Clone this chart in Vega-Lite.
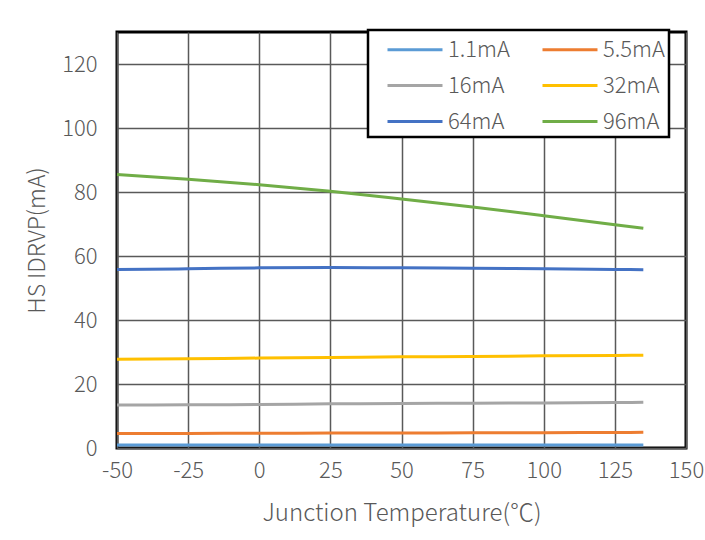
{
  "$schema": "https://vega.github.io/schema/vega-lite/v6.json",
  "width": 569,
  "height": 416,
  "autosize": {"type": "none"},
  "padding": {"left": 117, "top": 32, "right": 19, "bottom": 92},
  "background": "white",
  "config": {
    "font": "Noto Sans CJK SC",
    "view": {"stroke": "black", "strokeWidth": 3},
    "legend": {"strokeWidth": 2.5}
  },
  "data": {
    "values": [
      {"t": -50, "s": "1.1mA", "v": 0.9}, {"t": -25, "s": "1.1mA", "v": 0.9}, {"t": 0, "s": "1.1mA", "v": 0.9}, {"t": 25, "s": "1.1mA", "v": 0.9}, {"t": 50, "s": "1.1mA", "v": 0.9}, {"t": 75, "s": "1.1mA", "v": 0.9}, {"t": 100, "s": "1.1mA", "v": 0.9}, {"t": 125, "s": "1.1mA", "v": 0.9}, {"t": 135, "s": "1.1mA", "v": 0.9},
      {"t": -50, "s": "5.5mA", "v": 4.5}, {"t": -25, "s": "5.5mA", "v": 4.55}, {"t": 0, "s": "5.5mA", "v": 4.6}, {"t": 25, "s": "5.5mA", "v": 4.65}, {"t": 50, "s": "5.5mA", "v": 4.7}, {"t": 75, "s": "5.5mA", "v": 4.75}, {"t": 100, "s": "5.5mA", "v": 4.8}, {"t": 125, "s": "5.5mA", "v": 4.85}, {"t": 135, "s": "5.5mA", "v": 4.9},
      {"t": -50, "s": "16mA", "v": 13.4}, {"t": -25, "s": "16mA", "v": 13.5}, {"t": 0, "s": "16mA", "v": 13.6}, {"t": 25, "s": "16mA", "v": 13.8}, {"t": 50, "s": "16mA", "v": 13.9}, {"t": 75, "s": "16mA", "v": 14.0}, {"t": 100, "s": "16mA", "v": 14.1}, {"t": 125, "s": "16mA", "v": 14.2}, {"t": 135, "s": "16mA", "v": 14.3},
      {"t": -50, "s": "32mA", "v": 27.7}, {"t": -25, "s": "32mA", "v": 27.9}, {"t": 0, "s": "32mA", "v": 28.1}, {"t": 25, "s": "32mA", "v": 28.3}, {"t": 50, "s": "32mA", "v": 28.5}, {"t": 75, "s": "32mA", "v": 28.6}, {"t": 100, "s": "32mA", "v": 28.8}, {"t": 125, "s": "32mA", "v": 28.9}, {"t": 135, "s": "32mA", "v": 29.0},
      {"t": -50, "s": "64mA", "v": 55.8}, {"t": -25, "s": "64mA", "v": 56.0}, {"t": 0, "s": "64mA", "v": 56.3}, {"t": 25, "s": "64mA", "v": 56.4}, {"t": 50, "s": "64mA", "v": 56.3}, {"t": 75, "s": "64mA", "v": 56.2}, {"t": 100, "s": "64mA", "v": 56.0}, {"t": 125, "s": "64mA", "v": 55.8}, {"t": 135, "s": "64mA", "v": 55.7},
      {"t": -50, "s": "96mA", "v": 85.5}, {"t": -25, "s": "96mA", "v": 84.0}, {"t": 0, "s": "96mA", "v": 82.3}, {"t": 25, "s": "96mA", "v": 80.2}, {"t": 50, "s": "96mA", "v": 77.8}, {"t": 75, "s": "96mA", "v": 75.3}, {"t": 100, "s": "96mA", "v": 72.6}, {"t": 125, "s": "96mA", "v": 69.8}, {"t": 135, "s": "96mA", "v": 68.7}
    ]
  },
  "mark": {"type": "line", "strokeWidth": 3, "interpolate": "monotone"},
  "encoding": {
    "x": {
      "field": "t", "type": "quantitative",
      "scale": {"domain": [-50, 150], "nice": false},
      "axis": {
        "values": [-50, -25, 0, 25, 50, 75, 100, 125, 150],
        "labelExpr": "replace(datum.label, '−', '-')",
        "labelFlush": false,
        "title": "Junction Temperature(℃)",
        "titleFontSize": 24, "titleFontWeight": 300, "titleColor": "#595959", "titlePadding": 20,
        "labelFontSize": 22, "labelFontWeight": 300, "labelColor": "#595959", "labelPadding": 12,
        "ticks": false, "domain": false,
        "grid": true, "gridColor": "#595959", "gridWidth": 1.5
      }
    },
    "y": {
      "field": "v", "type": "quantitative",
      "scale": {"domain": [0, 130], "nice": false},
      "axis": {
        "values": [0, 20, 40, 60, 80, 100, 120],
        "title": "HS IDRVP(mA)",
        "titleFontSize": 23, "titleFontWeight": 300, "titleColor": "#595959", "titlePadding": 12,
        "labelFontSize": 22, "labelFontWeight": 300, "labelColor": "#595959", "labelPadding": 20,
        "ticks": false, "domain": false,
        "grid": true, "gridColor": "#595959", "gridWidth": 1.5
      }
    },
    "color": {
      "field": "s", "type": "nominal",
      "scale": {
        "domain": ["1.1mA", "5.5mA", "16mA", "32mA", "64mA", "96mA"],
        "range": ["#5B9BD5", "#ED7D31", "#A5A5A5", "#FFC000", "#4472C4", "#70AD47"]
      },
      "legend": {
        "title": null,
        "orient": "none",
        "legendX": 251,
        "legendY": -2,
        "columns": 2,
        "direction": "horizontal",
        "symbolType": "M0,0H4",
        "symbolSize": 756,
        "symbolStrokeWidth": 3,
        "labelFontSize": 22,
        "labelFontWeight": 300,
        "labelColor": "#595959",
        "labelOffset": 45,
        "labelExpr": "datum.label + ' '",
        "rowPadding": 9,
        "columnPadding": 17,
        "padding": 4,
        "strokeColor": "black",
        "fillColor": "white"
      }
    }
  }
}
